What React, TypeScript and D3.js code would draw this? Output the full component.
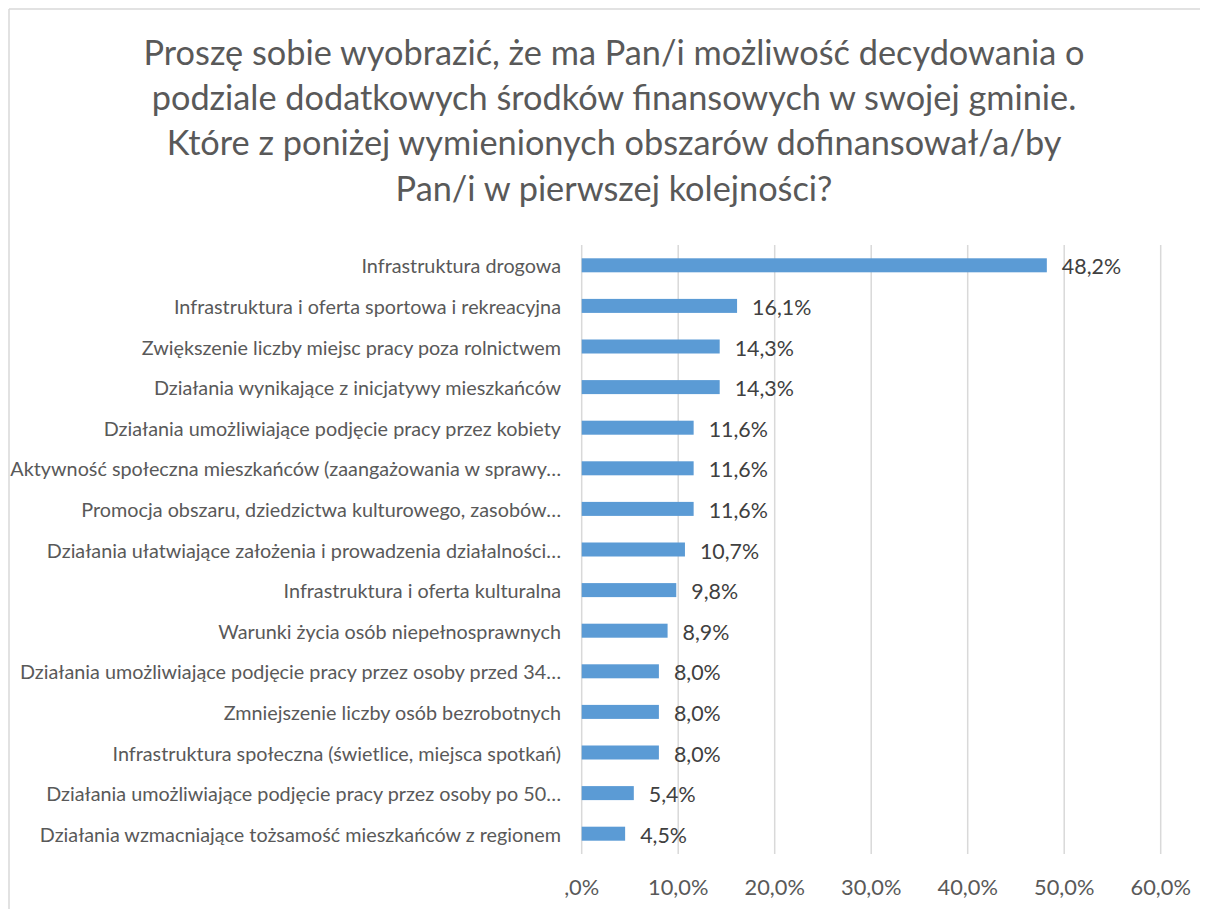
import React from "react";
import * as d3 from "d3";

const categories = [
  "Infrastruktura drogowa",
  "Infrastruktura i oferta sportowa i rekreacyjna",
  "Zwiększenie liczby miejsc pracy poza rolnictwem",
  "Działania wynikające z inicjatywy mieszkańców",
  "Działania umożliwiające podjęcie pracy przez kobiety",
  "Aktywność społeczna mieszkańców (zaangażowania w sprawy…",
  "Promocja obszaru, dziedzictwa kulturowego, zasobów…",
  "Działania ułatwiające założenia i prowadzenia działalności…",
  "Infrastruktura i oferta kulturalna",
  "Warunki życia osób niepełnosprawnych",
  "Działania umożliwiające podjęcie pracy przez osoby przed 34…",
  "Zmniejszenie liczby osób bezrobotnych",
  "Infrastruktura społeczna (świetlice, miejsca spotkań)",
  "Działania umożliwiające podjęcie pracy przez osoby po 50…",
  "Działania wzmacniające tożsamość mieszkańców z regionem",
];
const values = [48.2, 16.1, 14.3, 14.3, 11.6, 11.6, 11.6, 10.7, 9.8, 8.9, 8.0, 8.0, 8.0, 5.4, 4.5];
const ticks = [0, 10, 20, 30, 40, 50, 60];
const titleLines = [
  "Proszę sobie wyobrazić, że ma Pan/i możliwość decydowania o",
  "podziale dodatkowych środków finansowych w swojej gminie.",
  "Które z poniżej wymienionych obszarów dofinansował/a/by",
  "Pan/i w pierwszej kolejności?",
];

const fmt = (v: number) => {
  const s = v.toFixed(1).replace(".", ",");
  return (s.startsWith("0,") ? s.slice(1) : s) + "%";
};

export default function App() {
  const W = 1200;
  const H = 901;
  const ox = 8, oy = 8;
  const x = d3.scaleLinear().domain([0, 60]).range([581.7 - ox, 1160.7 - ox]);
  const y = d3
    .scaleBand<string>()
    .domain(categories)
    .range([245 - oy, 854 - oy])
    .paddingInner(0.655)
    .paddingOuter(0.3275);
  const font = "Lato, Carlito, Calibri, sans-serif";
  return (
    <svg width={W} height={H} style={{ display: "block" }} fontFamily={font}>
      <rect x={0} y={0} width={W} height={H} fill="#fff" />
      <line x1={1} y1={1} x2={W} y2={1} stroke="#d9d9d9" strokeWidth={1.5} />
      <line x1={1} y1={1} x2={1} y2={H} stroke="#d9d9d9" strokeWidth={1.5} />
      {titleLines.map((t, i) => (
        <text
          key={i}
          x={614 - ox}
          y={65 - oy + i * 45.2}
          textAnchor="middle"
          fontSize={34.3}
          fill="#595959"
        >
          {t}
        </text>
      ))}
      {ticks.map((t) => (
        <g key={t}>
          <line
            x1={x(t)}
            x2={x(t)}
            y1={245 - oy}
            y2={854 - oy}
            stroke="#d9d9d9"
            strokeWidth={1.5}
          />
          <text
            x={x(t)}
            y={886 - oy}
            textAnchor="middle"
            dominantBaseline="central"
            fontSize={21.8}
            fill="#595959"
          >
            {fmt(t)}
          </text>
        </g>
      ))}
      {categories.map((c, i) => {
        const yc = (y(c) as number) + y.bandwidth() / 2;
        return (
          <g key={c}>
            <rect
              x={x(0)}
              y={y(c)}
              width={x(values[i]) - x(0)}
              height={y.bandwidth()}
              fill="#5b9bd5"
            />
            <text
              x={561 - ox}
              y={yc}
              textAnchor="end"
              dominantBaseline="central"
              fontSize={19.8}
              fill="#595959"
            >
              {c}
            </text>
            <text
              x={x(values[i]) + 15}
              y={yc + 1}
              dominantBaseline="central"
              fontSize={21.4}
              fill="#404040"
            >
              {fmt(values[i])}
            </text>
          </g>
        );
      })}
    </svg>
  );
}
